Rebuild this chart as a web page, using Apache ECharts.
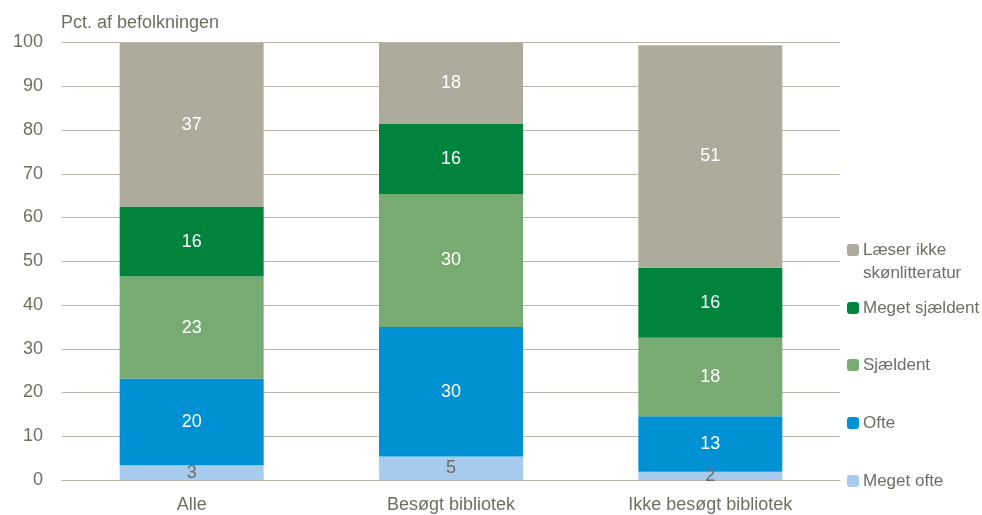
<!DOCTYPE html>
<html>
<head>
<meta charset="utf-8">
<script src="https://cdn.jsdelivr.net/npm/echarts@6/dist/echarts.min.js"></script>
<style>
html,body{margin:0;padding:0;background:#fff;}
#chart{width:982px;height:515px;}
</style>
</head>
<body>
<div id="chart"></div>
<script>
const categories = ['Alle', 'Besøgt bibliotek', 'Ikke besøgt bibliotek'];
const megetOfte = [3.4, 5.4, 1.9];
const ofte = [19.8, 29.6, 12.7];
const sjaeldent = [23.3, 30.4, 17.9];
const megetSjaeldent = [16.0, 16.1, 16.0];
const laeserIkke = [37.4, 18.4, 50.9];
const yTicks = [0, 10, 20, 30, 40, 50, 60, 70, 80, 90, 100];

const FONT = "'Liberation Sans Narrow', 'Arial Narrow', 'Liberation Sans', sans-serif";
const TXT = '#6f6e61';
const GRID = '#b8b6a6';

const seriesDefs = [
  {name: 'Meget ofte', data: megetOfte, color: '#a6cbee', label: TXT},
  {name: 'Ofte', data: ofte, color: '#0091d5', label: '#ffffff'},
  {name: 'Sjældent', data: sjaeldent, color: '#78ab72', label: '#ffffff'},
  {name: 'Meget sjældent', data: megetSjaeldent, color: '#00843d', label: '#ffffff'},
  {name: 'Læser ikke skønlitteratur', data: laeserIkke, color: '#adab9c', label: '#ffffff'}
];

const legendPos = {
  'Læser ikke skønlitteratur': {top: 250, text: ' \nLæser ikke\nskønlitteratur'},
  'Meget sjældent': {top: 308, text: 'Meget sjældent'},
  'Sjældent': {top: 365, text: 'Sjældent'},
  'Ofte': {top: 423, text: 'Ofte'},
  'Meget ofte': {top: 481, text: 'Meget ofte'}
};

const legends = seriesDefs.map(s => {
  const p = legendPos[s.name];
  const lines = p.text.split('\n').length;
  return {
    data: [s.name],
    left: 847,
    top: p.top - (lines * 23) / 2,
    padding: 0,
    itemWidth: 12,
    itemHeight: 12,
    itemGap: 4,
    selectedMode: false,
    formatter: () => p.text,
    textStyle: {fontFamily: FONT, fontSize: 17, color: TXT, lineHeight: 23, padding: [0, 0, 0, -1]}
  };
});

const chart = echarts.init(document.getElementById('chart'), null, {renderer: 'canvas'});
chart.setOption({
  animation: false,
  textStyle: {fontFamily: FONT},
  title: {
    text: 'Pct. af befolkningen',
    left: 61, top: 14,
    padding: 0,
    textStyle: {fontFamily: FONT, fontSize: 18, fontWeight: 'normal', color: TXT}
  },
  legend: legends,
  grid: {left: 62, right: 142, top: 42.5, bottom: 35, containLabel: false},
  xAxis: {
    type: 'category',
    data: categories,
    axisLine: {show: true, lineStyle: {color: GRID, width: 1}},
    axisTick: {show: false},
    axisLabel: {fontFamily: FONT, fontSize: 18, color: TXT, margin: 16}
  },
  yAxis: {
    type: 'value',
    min: yTicks[0], max: yTicks[yTicks.length - 1], interval: 10,
    axisLine: {show: false},
    axisTick: {show: false},
    axisLabel: {fontFamily: FONT, fontSize: 18, color: TXT, margin: 19},
    splitLine: {lineStyle: {color: GRID, width: 1}}
  },
  series: seriesDefs.map(s => ({
    name: s.name,
    type: 'bar',
    stack: 'total',
    barWidth: 144,
    data: s.data,
    itemStyle: {color: s.color},
    label: {
      show: true,
      position: 'inside',
      formatter: p => Math.round(p.value),
      fontFamily: FONT,
      fontSize: 18,
      color: s.label
    }
  }))
});
</script>
</body>
</html>
